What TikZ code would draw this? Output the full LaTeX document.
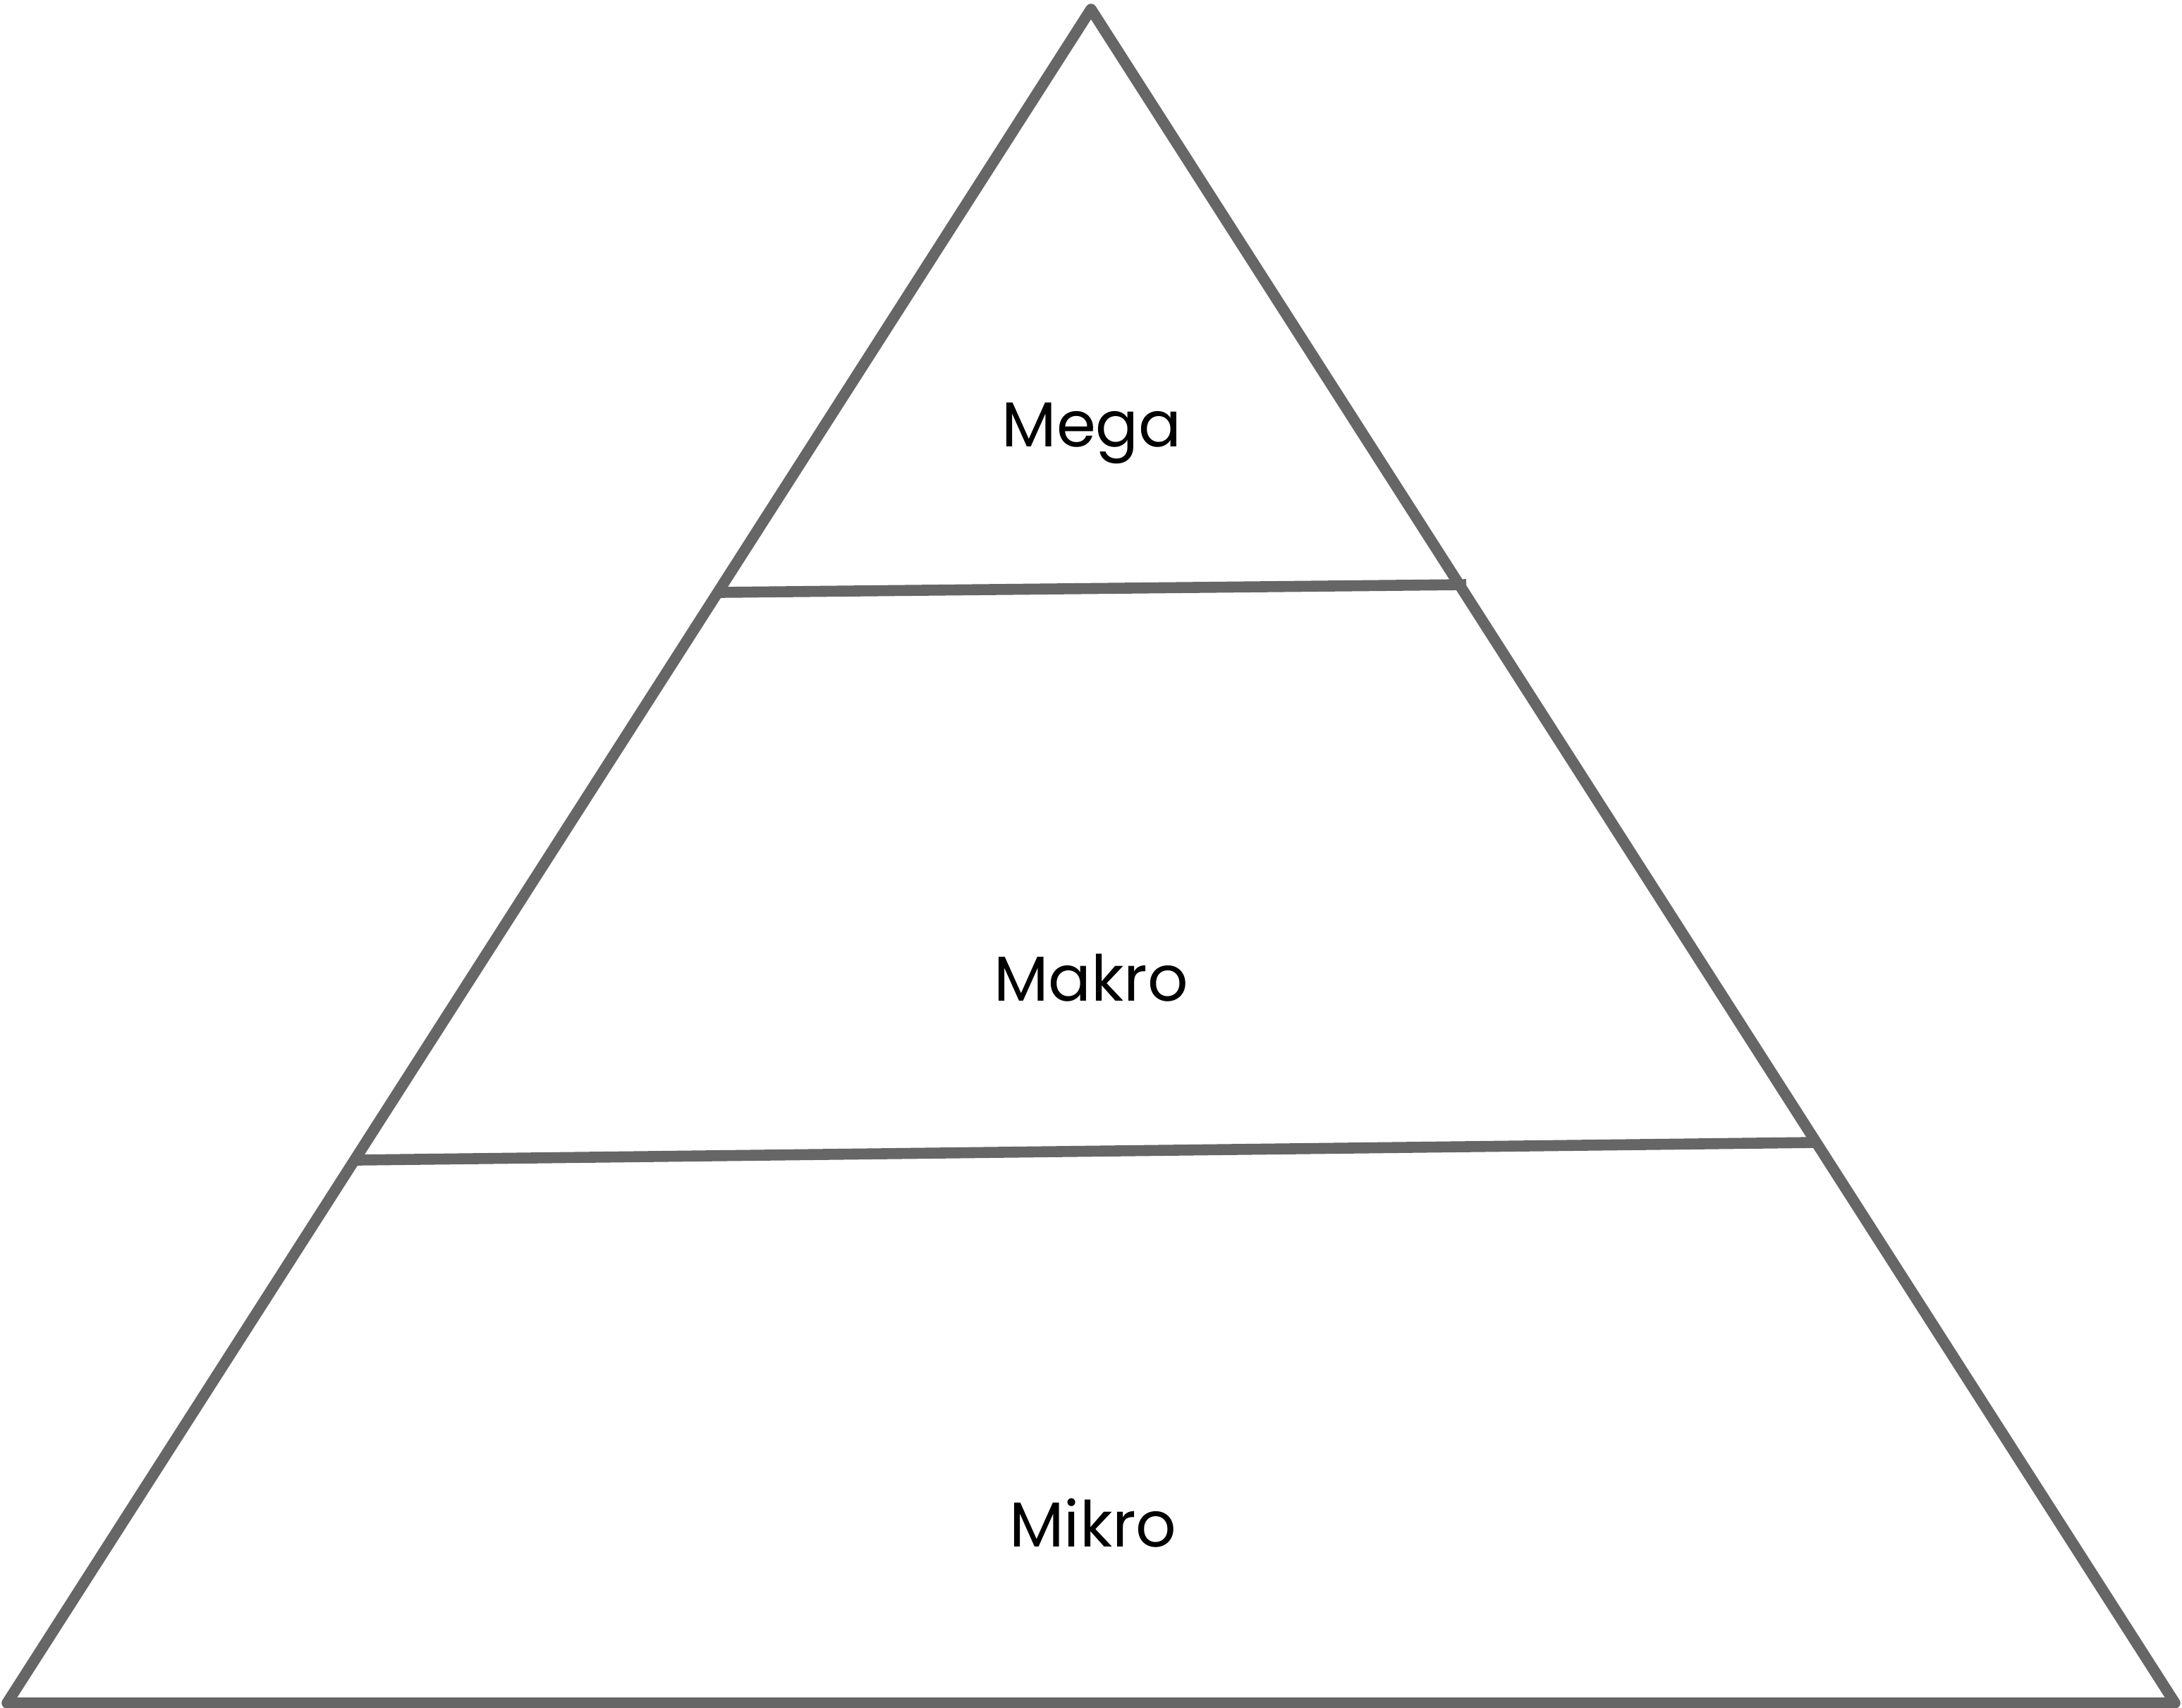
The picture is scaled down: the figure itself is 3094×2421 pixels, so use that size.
\documentclass[tikz,border=0pt]{standalone}
\usepackage{fontspec}
\setmainfont{Poppins}
\definecolor{edgegray}{HTML}{666666}
\begin{document}
\begin{tikzpicture}[x=0.5pt,y=-0.5pt,
  edge/.style={draw=edgegray,line width=7.8pt},
  tri/.style={edge,line join=round,line cap=round},
  level/.style={anchor=base,inner sep=0pt,font=\fontsize{45}{54}\selectfont,text=black}]
\useasboundingbox (0,0) rectangle (3094,2421);
\coordinate (apex) at (1547,13);
\coordinate (bl) at (10,2415);
\coordinate (br) at (3084,2415);
\coordinate (l1a) at (1022,840);
\coordinate (l1b) at (2079,829);
\coordinate (l2a) at (507,1645);
\coordinate (l2b) at (2576,1620);
\draw[tri] (apex) -- (bl) -- (br) -- cycle;
\draw[edge] (l1a) -- (l1b);
\draw[edge] (l2a) -- (l2b);
\node[level] (mega) at (1548,633) {Mega};
\node[level] (makro) at (1547,1419) {Makro};
\node[level] (mikro) at (1550,2193) {Mikro};
\end{tikzpicture}
\end{document}
